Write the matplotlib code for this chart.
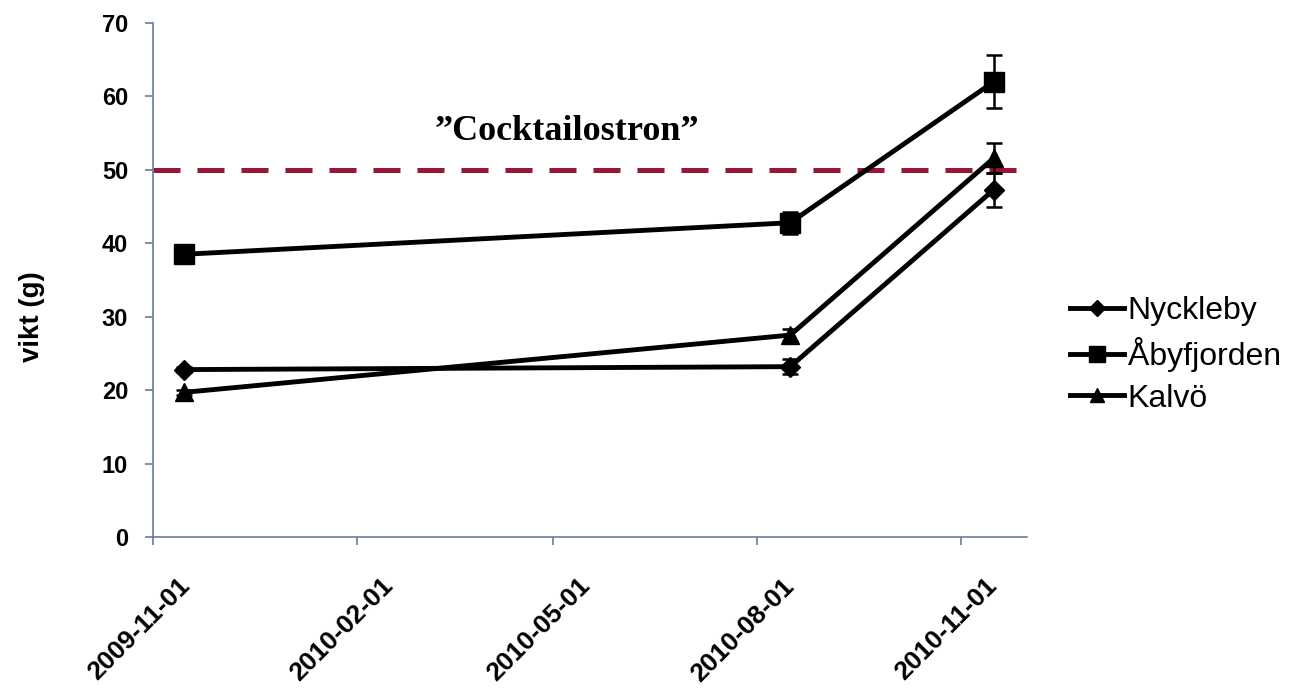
import numpy as np
import matplotlib.pyplot as plt
import matplotlib.dates as mdates
import matplotlib.transforms as mtransforms
from datetime import datetime

plt.rcParams['font.family'] = ['Liberation Sans', 'DejaVu Sans']

datum = [datetime(2009, 11, 15), datetime(2010, 8, 16), datetime(2010, 11, 16)]

nyckleby = [22.8, 23.2, 47.3]
nyckleby_err = [0.3, 1.0, 2.3]
abyfjorden = [38.5, 42.8, 62.0]
abyfjorden_err = [0.5, 1.5, 3.6]
kalvo = [19.7, 27.5, 51.6]
kalvo_err = [0.3, 0.8, 2.0]

grans = 50
tick_datum = [datetime(2009, 11, 1), datetime(2010, 2, 1), datetime(2010, 5, 1),
              datetime(2010, 8, 1), datetime(2010, 11, 1)]

fig = plt.figure(figsize=(12.99, 6.96), dpi=100)
ax = fig.add_axes([0.1178, 0.2284, 0.6728, 0.7386])

ax.axhline(grans, color='#9b1535', lw=3.6, dashes=(5.4, 3.4), zorder=1)

serier = [(nyckleby, nyckleby_err, 'D', 10, 'Nyckleby'),
          (abyfjorden, abyfjorden_err, 's', 14, 'Åbyfjorden'),
          (kalvo, kalvo_err, '^', 13, 'Kalvö')]
for y, err, m, ms, namn in serier:
    ax.errorbar(datum, y, yerr=err, fmt='none', ecolor='black', capsize=6,
                elinewidth=1.8, capthick=1.8, zorder=2)
    ax.plot(datum, y, color='black', lw=3.5, marker=m, ms=ms, label=namn, zorder=3)

ax.text(datetime(2010, 5, 7), 55.2, '”Cocktailostron”', family='Liberation Serif',
        fontweight='bold', fontsize=26, ha='center', va='center')

ax.set_xlim(datetime(2009, 11, 1), datetime(2010, 12, 1))
ax.set_ylim(0, 70)
ax.set_yticks(np.arange(0, 71, 10))
ax.set_xticks(tick_datum)
ax.xaxis.set_major_formatter(mdates.DateFormatter('%Y-%m-%d'))

for s in ['top', 'right']:
    ax.spines[s].set_visible(False)
for s in ['left', 'bottom']:
    ax.spines[s].set_color('#6b7a99')
    ax.spines[s].set_linewidth(1.2)
ax.tick_params(axis='both', direction='out', length=6, width=1.2, color='#6b7a99')
ax.tick_params(axis='y', pad=12, labelsize=17)
ax.tick_params(axis='x', pad=0, labelsize=19)
for lab in ax.get_yticklabels():
    lab.set_fontweight('bold')
offset = mtransforms.ScaledTranslation(0.33, -0.37, fig.dpi_scale_trans)
for lab in ax.get_xticklabels():
    lab.set_fontweight('bold')
    lab.set_rotation(45)
    lab.set_ha('right')
    lab.set_va('center')
    lab.set_rotation_mode('anchor')
    lab.set_transform(lab.get_transform() + offset)

ax.set_ylabel('vikt (g)', fontsize=20, fontweight='bold')
ax.yaxis.set_label_coords(-0.124, 0.428)

ax.legend(loc='center left', bbox_to_anchor=(1070 / 1299, 0.49),
          bbox_transform=fig.transFigure, frameon=False, fontsize=23,
          handlelength=1.7, handletextpad=0.1, labelspacing=0.35, borderaxespad=0,
          borderpad=0, markerscale=0.8)

fig.savefig('out.png', dpi=100)
